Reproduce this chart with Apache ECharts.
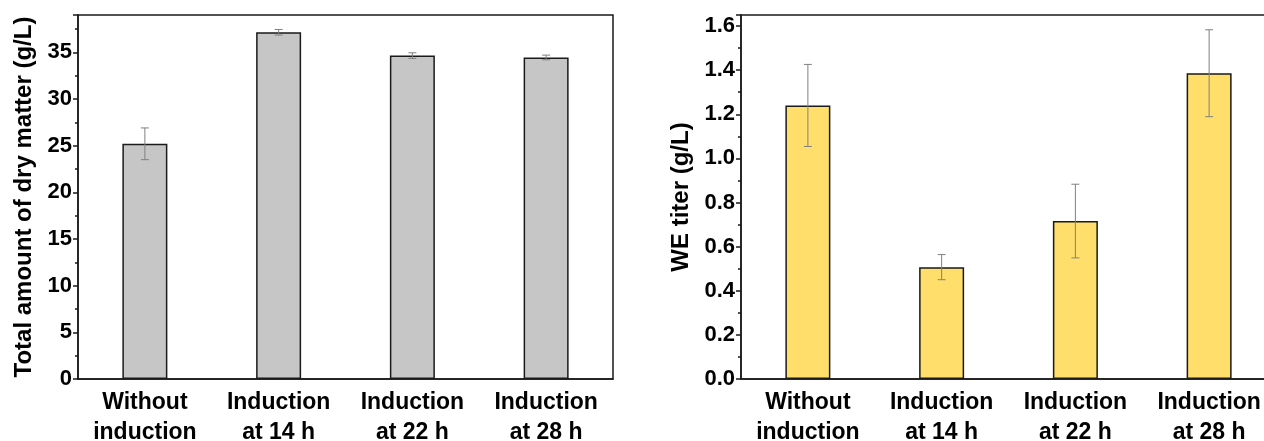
<!DOCTYPE html>
<html>
<head>
<meta charset="utf-8">
<script src="https://cdn.jsdelivr.net/npm/echarts@6/dist/echarts.min.js"></script>
<style>
  html, body { margin: 0; padding: 0; background: #fff; }
  #chart { width: 1264px; height: 441px; }
</style>
</head>
<body>
<div id="chart"></div>
<script>
// categories shared by both panels
var categories = ['Without\ninduction', 'Induction\nat 14 h', 'Induction\nat 22 h', 'Induction\nat 28 h'];

// left panel: dry matter (g/L)
var dryMatter = [25.2, 37.15, 34.65, 34.45];
var dryMatterErr = [1.7, 0.3, 0.3, 0.25];

// right panel: WE titer (g/L)
var weTiter = [1.24, 0.507, 0.716, 1.386];
var weTiterErr = [0.186, 0.057, 0.167, 0.197];

var fontFam = '"Liberation Sans", Arial, sans-serif';
var lab_size = 22;
var cat_size = 23;
var name_size = 24;
var axisCol = '#1a1a1a';

function errData(vals, errs) {
  return vals.map(function (v, i) { return [i, v - errs[i], v + errs[i]]; });
}

function errRender(params, api) {
  var x = api.value(0);
  var lo = api.coord([x, api.value(1)]);
  var hi = api.coord([x, api.value(2)]);
  var cap = 4;
  var st = { stroke: '#808080', lineWidth: 1 };
  return {
    type: 'group',
    children: [
      { type: 'line', shape: { x1: lo[0], y1: lo[1], x2: hi[0], y2: hi[1] }, style: st },
      { type: 'line', shape: { x1: hi[0] - cap, y1: hi[1], x2: hi[0] + cap, y2: hi[1] }, style: st },
      { type: 'line', shape: { x1: lo[0] - cap, y1: lo[1], x2: lo[0] + cap, y2: lo[1] }, style: st }
    ]
  };
}

function catAxis(grid) {
  return [
    {
      type: 'category', gridIndex: grid, data: categories,
      axisLine: { lineStyle: { color: axisCol, width: 1.5 } },
      axisTick: { alignWithLabel: true, length: 5, lineStyle: { color: axisCol, width: 1.5 } },
      axisLabel: { color: '#000', fontFamily: fontFam, fontWeight: 'bold', fontSize: cat_size, lineHeight: 30, margin: 9, interval: 0 },
      splitLine: { show: false }
    },
    {
      // boundary ticks only
      type: 'category', gridIndex: grid, data: categories, position: 'bottom',
      axisLine: { show: false },
      axisTick: { length: 3, lineStyle: { color: axisCol, width: 1.5 } },
      axisLabel: { show: false },
      splitLine: { show: false }
    }
  ];
}

function valAxis(grid, max, interval, dec, name, gap) {
  return {
    type: 'value', gridIndex: grid, min: 0, max: max, interval: interval,
    name: name, nameLocation: 'middle', nameGap: gap,
    nameTextStyle: { color: '#000', fontFamily: fontFam, fontWeight: 'bold', fontSize: name_size },
    axisLine: { show: true, lineStyle: { color: axisCol, width: 1.5 } },
    axisTick: { show: true, length: 5, lineStyle: { color: axisCol, width: 1.5 } },
    minorTick: { show: true, splitNumber: 2, length: 3, lineStyle: { color: axisCol, width: 1.5 } },
    axisLabel: {
      color: '#000', fontFamily: fontFam, fontWeight: 'bold', fontSize: lab_size, margin: 6,
      formatter: function (v) { return v > max - interval / 2 + 1e-9 && v % interval > 1e-6 ? '' : v.toFixed(dec); }
    },
    splitLine: { show: false }
  };
}

var chart = echarts.init(document.getElementById('chart'));
chart.setOption({
  animation: false,
  grid: [
    { left: 78, top: 15, width: 535, height: 364, show: true, borderColor: axisCol, borderWidth: 1.5, outerBoundsMode: 'none', containLabel: false },
    { left: 741, top: 15, width: 535, height: 364, show: true, borderColor: axisCol, borderWidth: 1.5, outerBoundsMode: 'none', containLabel: false }
  ],
  xAxis: catAxis(0).concat(catAxis(1)),
  yAxis: [
    valAxis(0, 39, 5, 0, 'Total amount of dry matter (g/L)', 42),
    valAxis(1, 1.65, 0.2, 1, 'WE titer (g/L)', 48)
  ],
  series: [
    {
      type: 'bar', xAxisIndex: 0, yAxisIndex: 0, data: dryMatter, barWidth: 45,
      itemStyle: { color: '#c6c6c6', borderColor: axisCol, borderWidth: 1.5 }
    },
    {
      type: 'custom', xAxisIndex: 0, yAxisIndex: 0, data: errData(dryMatter, dryMatterErr),
      renderItem: errRender, z: 5
    },
    {
      type: 'bar', xAxisIndex: 2, yAxisIndex: 1, data: weTiter, barWidth: 45,
      itemStyle: { color: '#ffde6b', borderColor: axisCol, borderWidth: 1.5 }
    },
    {
      type: 'custom', xAxisIndex: 2, yAxisIndex: 1, data: errData(weTiter, weTiterErr),
      renderItem: errRender, z: 5
    }
  ]
});
</script>
</body>
</html>
